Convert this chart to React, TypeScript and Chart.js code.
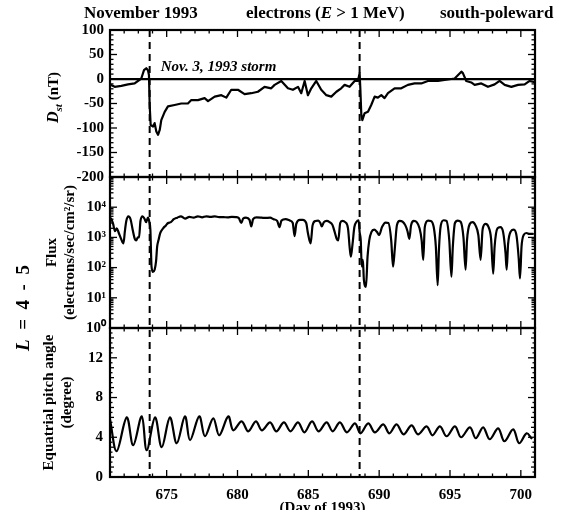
import React, { useEffect, useRef } from 'react';
import { Chart, registerables } from 'chart.js';

Chart.register(...registerables);

// ---------- data ----------
const dayMin = 671;
const dayMax = 701;
const dayTicks = [675, 680, 685, 690, 695, 700];
const stormDays = [673.8, 688.62];
const stormLabel = 'Nov. 3, 1993 storm';
const stormLabelDst = 25;

const dstDays = [
  671.0, 671.33, 671.8, 672.27, 672.74, 673.21, 673.4, 673.56, 673.68, 673.75, 673.8, 673.87,
  674.04, 674.15, 674.27, 674.39, 674.51, 674.62, 674.86, 675.09, 675.56, 676.03, 676.5, 676.74,
  677.21, 677.68, 677.92, 678.39, 678.86, 679.21, 679.56, 680.03, 680.5, 680.97, 681.44, 681.91,
  682.38, 682.62, 683.09, 683.56, 683.91, 684.27, 684.5, 684.74, 684.97, 685.21, 685.56, 685.91,
  686.27, 686.62, 686.98, 687.32, 687.56, 687.91, 688.27, 688.5, 688.62, 688.67, 688.74, 688.81,
  688.97, 689.21, 689.44, 689.68, 689.91, 690.15, 690.38, 690.62, 691.09, 691.56, 692.03, 692.5,
  692.97, 693.44, 694.15, 694.62, 695.33, 695.8, 695.91, 696.15, 696.5, 696.74, 697.21, 697.68,
  698.15, 698.5, 698.86, 699.33, 699.8, 700.27, 700.62, 700.9,
];
const dstValues = [
  -11, -16, -14, -11, -9, 1, 18, 22, 18, 8, -53, -94,
  -97, -90, -107, -114, -104, -84, -67, -56, -53, -50, -50, -43,
  -43, -39, -45, -36, -33, -38, -22, -22, -31, -29, -26, -16,
  -19, -12, -4, -19, -22, -16, -29, -4, -33, -19, -4, -22,
  -33, -36, -26, -19, -12, -16, -4, -4, 12, -19, -73, -84,
  -70, -67, -53, -36, -38, -33, -39, -29, -19, -19, -12, -9,
  -9, -4, -4, -2, 1, 15, 12, -4, -7, -12, -9, -16,
  -11, -4, -12, -16, -12, -11, -4, -6,
];

const fluxDays = [
  671.0, 671.1, 671.22, 671.35, 671.48, 671.62, 671.78, 671.95, 672.05, 672.15, 672.3, 672.45,
  672.6, 672.75, 672.85, 672.97, 673.05, 673.15, 673.3, 673.45, 673.55, 673.68, 673.78, 673.85,
  673.93, 674.03, 674.15, 674.25, 674.33, 674.42, 674.55, 674.75, 674.95, 675.1, 675.3, 675.5,
  675.75, 676.0, 676.3, 676.6, 676.9, 677.2, 677.5, 677.8, 678.1, 678.4, 678.7, 679.0,
  679.3, 679.6, 679.9, 680.1, 680.27, 680.4, 680.6, 680.85, 680.97, 681.1, 681.35, 681.7,
  681.95, 682.3, 682.55, 682.8, 682.97, 683.1, 683.4, 683.7, 683.9, 684.03, 684.15, 684.4,
  684.6, 684.85, 684.97, 685.16, 685.3, 685.5, 685.7, 685.85, 685.95, 686.1, 686.3, 686.5,
  686.7, 686.88, 687.0, 687.11, 687.25, 687.4, 687.6, 687.8, 687.92, 688.0, 688.12, 688.25,
  688.4, 688.55, 688.62, 688.7, 688.77, 688.85, 688.92, 689.07, 689.18, 689.3, 689.45, 689.65,
  689.85, 690.0, 690.2, 690.45, 690.65, 690.85, 690.98, 691.1, 691.25, 691.45, 691.65, 691.85,
  692.0, 692.13, 692.25, 692.45, 692.65, 692.85, 693.0, 693.11, 693.22, 693.45, 693.65, 693.85,
  694.0, 694.13, 694.22, 694.35, 694.55, 694.75, 694.95, 695.1, 695.2, 695.35, 695.55, 695.75,
  695.95, 696.1, 696.2, 696.4, 696.6, 696.8, 697.0, 697.16, 697.3, 697.5, 697.7, 697.9,
  698.05, 698.15, 698.35, 698.55, 698.75, 698.92, 699.0, 699.1, 699.3, 699.5, 699.7, 699.85,
  699.94, 700.05, 700.2, 700.4, 700.6, 700.85,
];
const fluxValues = [
  4500, 4000, 2800, 1600, 2000, 1400, 900, 630, 1600, 3500, 5000, 4000,
  1800, 900, 800, 1000, 1000, 3500, 5000, 4000, 3200, 4500, 3200, 1800,
  110, 72, 85, 160, 500, 800, 1400, 2000, 2500, 3000, 3200, 4000,
  4500, 5000, 4200, 4800, 4500, 5000, 4600, 5000, 4800, 5000, 4700, 4700,
  4600, 4800, 4700, 4300, 3000, 4200, 4500, 3800, 2300, 4000, 4600, 4500,
  4400, 4500, 4000, 3500, 2200, 3600, 4000, 3600, 3000, 1100, 2800, 3800,
  3800, 3000, 1400, 630, 2500, 3500, 3600, 3000, 2300, 3200, 3500, 3200,
  2600, 1400, 900, 800, 3000, 3500, 3200, 2000, 450, 230, 600, 2200,
  3300, 3700, 1500, 800, 110, 180, 40, 23, 230, 800, 1500, 1800,
  1500, 1200, 2200, 3100, 3000, 800, 107, 400, 2500, 3500, 3300, 2500,
  1600, 900, 2500, 3500, 3200, 2000, 800, 180, 2200, 3600, 3500, 2200,
  500, 26, 400, 2500, 3700, 3500, 800, 50, 500, 3000, 3600, 3300,
  1000, 85, 800, 2800, 3200, 2500, 1200, 180, 1800, 2800, 2300, 900,
  63, 500, 2000, 2200, 1500, 300, 85, 600, 1600, 1800, 1100, 200,
  44, 500, 1200, 1400, 1300, 1300,
];
const fluxTickExponents = [0, 1, 2, 3, 4];

const pitchDays = [
  671.0, 671.47, 672.18, 672.64, 673.24, 673.59, 674.18, 674.65, 675.23, 675.71, 676.29, 676.65,
  677.3, 677.7, 678.29, 678.71, 679.35, 679.7, 680.29, 680.76, 681.3, 681.72, 682.3, 682.74,
  683.28, 683.74, 684.27, 684.72, 685.26, 685.72, 686.29, 686.72, 687.23, 687.72, 688.29, 688.68,
  689.23, 689.7, 690.29, 690.72, 691.23, 691.72, 692.29, 692.74, 693.35, 693.76, 694.29, 694.76,
  695.35, 695.78, 696.41, 696.82, 697.34, 697.8, 698.4, 698.84, 699.46, 699.88, 700.41, 700.75,
];
const pitchValues = [
  5.8, 2.6, 6.0, 3.2, 6.1, 2.7, 6.0, 3.0, 6.0, 3.4, 6.1, 3.7,
  6.1, 4.1, 5.9, 4.2, 6.1, 4.7, 5.6, 4.6, 5.6, 4.7, 5.5, 4.6,
  5.5, 4.6, 5.5, 4.5, 5.6, 4.6, 5.5, 4.6, 5.5, 4.5, 5.4, 4.4,
  5.4, 4.5, 5.3, 4.4, 5.3, 4.3, 5.2, 4.3, 5.1, 4.2, 5.1, 4.1,
  5.1, 4.0, 5.0, 3.9, 5.0, 3.8, 4.9, 3.6, 4.8, 3.4, 4.4, 3.9,
];
const pitchTickStep = 4;

// ---------- helpers ----------
const SERIF = "'Liberation Serif', 'Times New Roman', serif";
const SUP: Record<string, string> = { '0': '\u2070', '1': '\u00B9', '2': '\u00B2', '3': '\u00B3', '4': '\u2074', '5': '\u2075' };
const pts = (xs: number[], ys: number[]) => xs.map((x, i) => ({ x, y: ys[i] }));
const tickFont = { family: SERIF, size: 15, weight: 'bold' as const };

const decorPlugin = {
  id: 'decor',
  afterDraw(chart: any) {
    const { ctx, chartArea, scales } = chart;
    const xs = scales.x;
    const yDst = scales.yDst;
    const yFlux = scales.yFlux;
    const yPitch = scales.yPitch;
    const L = chartArea.left;
    const R = chartArea.right;
    const line = (x1: number, y1: number, x2: number, y2: number) => {
      ctx.beginPath();
      ctx.moveTo(x1, y1);
      ctx.lineTo(x2, y2);
      ctx.stroke();
    };
    ctx.save();
    ctx.strokeStyle = '#000';
    ctx.fillStyle = '#000';

    // y minor/major ticks (inward, both sides)
    ctx.lineWidth = 1.3;
    const yTick = (s: any, v: number, len: number) => {
      const p = s.getPixelForValue(v);
      line(L, p, L + len, p);
      line(R, p, R - len, p);
    };
    for (let v = -200; v <= 100; v += 10) yTick(yDst, v, v % 50 === 0 ? 7 : 3.5);
    for (const e of fluxTickExponents) {
      for (let k = 1; k <= 9; k++) yTick(yFlux, k * Math.pow(10, e), k === 1 ? 7 : 3.5);
    }
    for (let v = 0; v <= 15; v += 0.5) yTick(yPitch, v, v % pitchTickStep === 0 ? 7 : v % 1 === 0 ? 4 : 2.5);

    // x ticks on each panel edge
    for (const s of [yDst, yFlux, yPitch]) {
      for (let d = Math.ceil(xs.min); d <= xs.max; d++) {
        const p = xs.getPixelForValue(d);
        const len = d % 5 === 0 ? 7 : 3.5;
        line(p, s.top, p, s.top + len);
        line(p, s.bottom, p, s.bottom - len);
      }
    }

    // panel frames
    ctx.lineWidth = 2.2;
    for (const s of [yDst, yFlux, yPitch]) ctx.strokeRect(L, s.top, R - L, s.bottom - s.top);

    // storm lines
    ctx.lineWidth = 2;
    ctx.setLineDash([7, 5]);
    for (const d of stormDays) {
      const p = xs.getPixelForValue(d);
      line(p, chartArea.top, p, chartArea.bottom);
    }
    ctx.setLineDash([]);

    // storm annotation
    ctx.font = `italic bold 15px ${SERIF}`;
    ctx.textBaseline = 'middle';
    ctx.textAlign = 'left';
    ctx.fillText(stormLabel, xs.getPixelForValue(stormDays[0]) + 11, yDst.getPixelForValue(stormLabelDst));

    // header texts
    ctx.textBaseline = 'alphabetic';
    ctx.font = `bold 17px ${SERIF}`;
    ctx.fillText('November 1993', 84, 18);
    let x = 246;
    const parts: [string, string][] = [
      ['electrons (', 'bold'],
      ['E', 'italic bold'],
      [' > 1 MeV)', 'bold'],
    ];
    for (const [t, st] of parts) {
      ctx.font = `${st} 17px ${SERIF}`;
      ctx.fillText(t, x, 18);
      x += ctx.measureText(t).width;
    }
    ctx.font = `bold 17px ${SERIF}`;
    ctx.fillText('south-poleward', 440, 18);

    // rotated text helper: runs of [text, style, size, dy]
    const rotated = (cx: number, cy: number, runs: [string, string, number, number][]) => {
      ctx.save();
      ctx.translate(cx, cy);
      ctx.rotate(-Math.PI / 2);
      ctx.textBaseline = 'alphabetic';
      let total = 0;
      for (const [t, st, sz] of runs) {
        ctx.font = `${st} ${sz}px ${SERIF}`;
        total += ctx.measureText(t).width;
      }
      let rx = -total / 2;
      for (const [t, st, sz, dy] of runs) {
        ctx.font = `${st} ${sz}px ${SERIF}`;
        ctx.fillText(t, rx, dy);
        rx += ctx.measureText(t).width;
      }
      ctx.restore();
    };

    // Dst axis title
    rotated(58, (yDst.top + yDst.bottom) / 2 - 6, [
      ['D', 'italic bold', 16, 0],
      ['st', 'italic bold', 11, 4],
      [' (nT)', 'bold', 15, 0],
    ]);

    // L = 4 - 5
    rotated(29, 308, [
      ['L', 'italic bold', 19, 0],
      ['  =  4  -  5', 'bold', 19, 0],
    ]);
    ctx.restore();
  },
};

export default function App() {
  const ref = useRef<HTMLCanvasElement | null>(null);
  useEffect(() => {
    if (!ref.current) return;
    const chart = new Chart(ref.current, {
      type: 'line',
      data: {
        datasets: [
          {
            label: 'Dst',
            data: pts(dstDays, dstValues),
            yAxisID: 'yDst',
            borderColor: '#000',
            borderWidth: 2.2,
            pointRadius: 0,
            tension: 0,
          },
          {
            label: 'Flux',
            data: pts(fluxDays, fluxValues),
            yAxisID: 'yFlux',
            borderColor: '#000',
            borderWidth: 2.2,
            pointRadius: 0,
            cubicInterpolationMode: 'monotone',
          },
          {
            label: 'Pitch',
            data: pts(pitchDays, pitchValues),
            yAxisID: 'yPitch',
            borderColor: '#000',
            borderWidth: 2.2,
            pointRadius: 0,
            tension: 0.35,
          },
        ],
      },
      options: {
        animation: false,
        responsive: false,
        events: [],
        layout: { padding: { left: 0, right: 33, top: 30, bottom: 0 } },
        plugins: { legend: { display: false }, tooltip: { enabled: false } },
        elements: { line: { borderJoinStyle: 'round', borderCapStyle: 'round' } },
        scales: {
          x: {
            type: 'linear',
            position: 'bottom',
            min: dayMin,
            max: dayMax,
            grid: { display: false, drawTicks: false },
            border: { display: false },
            ticks: { autoSkip: false, font: tickFont, color: '#000', padding: 9, maxRotation: 0 },
            afterBuildTicks: (s: any) => {
              s.ticks = dayTicks.map((v) => ({ value: v }));
            },
            title: {
              display: true,
              text: '(Day of 1993)',
              color: '#000',
              font: { family: SERIF, size: 15, weight: 'bold' },
              padding: { top: 0, bottom: -7 },
            },
            afterFit: (s: any) => {
              s.height = 33;
            },
          },
          yPitch: {
            type: 'linear',
            position: 'left',
            stack: 'panels',
            stackWeight: 149,
            weight: 1,
            min: 0,
            max: 15,
            grid: { display: false, drawTicks: false },
            border: { display: false },
            ticks: { autoSkip: false, stepSize: pitchTickStep, includeBounds: false, font: tickFont, color: '#000', padding: 7 },
            title: {
              display: true,
              text: ['Equatrial pitch angle', '(degree)'],
              color: '#000',
              font: { family: SERIF, size: 15, weight: 'bold' },
              padding: { top: 40, bottom: 0 },
            },
            afterFit: (s: any) => {
              s.width = 110;
            },
          },
          yFlux: {
            type: 'logarithmic',
            position: 'left',
            stack: 'panels',
            stackWeight: 151,
            weight: 2,
            min: 1,
            max: 1e5,
            grid: { display: false, drawTicks: false },
            border: { display: false },
            ticks: {
              autoSkip: false,
              font: tickFont,
              color: '#000',
              padding: 4,
              callback: (v: any) => {
                const e = Math.log10(Number(v));
                const r = Math.round(e);
                if (Math.abs(e - r) > 1e-6 || !fluxTickExponents.includes(r)) return null;
                return '10' + SUP[String(r)];
              },
            },
            title: {
              display: true,
              text: ['Flux', '(electrons/sec/cm\u00B2/sr)'],
              color: '#000',
              font: { family: SERIF, size: 15, weight: 'bold' },
              padding: { top: 43, bottom: 0 },
            },
            afterFit: (s: any) => {
              s.width = 110;
            },
          },
          yDst: {
            type: 'linear',
            position: 'left',
            stack: 'panels',
            stackWeight: 147,
            weight: 3,
            min: -200,
            max: 100,
            grid: {
              display: true,
              drawTicks: false,
              color: (c: any) => (c.tick && c.tick.value === 0 ? '#000' : 'rgba(0,0,0,0)'),
              lineWidth: 2.2,
            },
            border: { display: false },
            ticks: { autoSkip: false, stepSize: 50, font: tickFont, color: '#000', padding: 6 },
            title: { display: false },
            afterFit: (s: any) => {
              s.width = 110;
            },
          },
        },
      } as any,
      plugins: [decorPlugin],
    });
    return () => chart.destroy();
  }, []);

  return (
    <div style={{ position: 'absolute', left: 0, top: 0, width: 568, height: 510, background: '#fff' }}>
      <canvas ref={ref} width={568} height={510} style={{ display: 'block' }} />
    </div>
  );
}
